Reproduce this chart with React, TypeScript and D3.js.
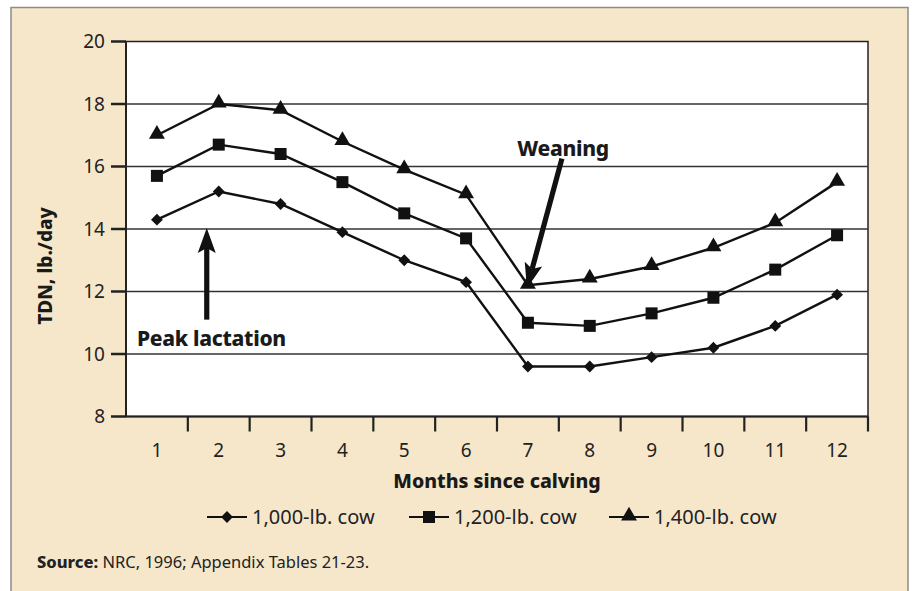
import * as d3 from 'd3';
import React from 'react';

const months = [1, 2, 3, 4, 5, 6, 7, 8, 9, 10, 11, 12];
const cow1000 = [14.3, 15.2, 14.8, 13.9, 13.0, 12.3, 9.6, 9.6, 9.9, 10.2, 10.9, 11.9];
const cow1200 = [15.7, 16.7, 16.4, 15.5, 14.5, 13.7, 11.0, 10.9, 11.3, 11.8, 12.7, 13.8];
const cow1400 = [17.0, 18.0, 17.8, 16.8, 15.9, 15.1, 12.2, 12.4, 12.8, 13.4, 14.2, 15.5];
const yTicks = [8, 10, 12, 14, 16, 18, 20];
const seriesNames = ['1,000-lb. cow', '1,200-lb. cow', '1,400-lb. cow'];
const seriesShapes = ['diamond', 'square', 'triangle'];

const W = 915, H = 591;
const margin = { top: 41.5, right: 47, bottom: 174.5, left: 126 };
const font = '"Noto Sans", "Open Sans", sans-serif';

function Marker({ shape, x, y }: { shape: string; x: number; y: number }) {
  if (shape === 'diamond') {
    const s = d3.symbol().type(d3.symbolSquare).size(70)();
    return <path d={s as string} transform={`translate(${x},${y}) rotate(45)`} fill="#111" />;
  }
  if (shape === 'square') {
    return <rect x={x - 6} y={y - 6} width={12} height={12} fill="#111" />;
  }
  const s = d3.symbol().type(d3.symbolTriangle).size(110)();
  return <path d={s as string} transform={`translate(${x},${y - 1})`} fill="#111" />;
}

// filled arrow from (x1,y1) tail to (x2,y2) tip
function Arrow({ x1, y1, x2, y2 }: { x1: number; y1: number; x2: number; y2: number }) {
  const len = Math.hypot(x2 - x1, y2 - y1);
  const ang = (Math.atan2(y2 - y1, x2 - x1) * 180) / Math.PI;
  const headL = 25, headW = 9, notch = 5;
  return (
    <g transform={`translate(${x1},${y1}) rotate(${ang})`}>
      <rect x={0} y={-2.6} width={len - headL + notch} height={5.2} fill="#111" />
      <path d={`M${len},0 L${len - headL},${-headW} L${len - headL + notch},0 L${len - headL},${headW} Z`} fill="#111" />
    </g>
  );
}

export default function App() {
  const innerW = W - margin.left - margin.right;
  const innerH = H - margin.top - margin.bottom;
  const x = d3.scaleBand<number>().domain(months).range([margin.left, margin.left + innerW]);
  const y = d3.scaleLinear().domain([8, 20]).range([margin.top + innerH, margin.top]);
  const cx = (m: number) => (x(m) as number) + x.bandwidth() / 2;
  const line = d3.line<number>().x((_, i) => cx(months[i])).y(d => y(d));
  const series = [cow1000, cow1200, cow1400];
  const bottom = y(8);
  const right = margin.left + innerW;

  const peakX = cx(2) - 12;
  const legendX = [207, 409, 609];

  return (
    <svg width={W} height={H} style={{ position: 'absolute', left: 0, top: 0 }} fontFamily={font}>
      <rect x={11} y={7.5} width={897} height={600} fill="#f6e7ca" stroke="#8c8c8c" strokeWidth={1.5} />
      <rect x={margin.left} y={margin.top} width={innerW} height={innerH} fill="#fff" stroke="#222" strokeWidth={1.5} />

      {yTicks.map(t => (
        <g key={t}>
          {t > 8 && t < 20 && <line x1={margin.left} x2={right} y1={y(t)} y2={y(t)} stroke="#333" strokeWidth={1.3} />}
          <line x1={margin.left - 15} x2={margin.left} y1={y(t)} y2={y(t)} stroke="#222" strokeWidth={2.5} />
          <text x={margin.left - 21} y={y(t)} dy="0.36em" textAnchor="end" fontSize={19} fill="#222">{t}</text>
        </g>
      ))}
      <line x1={margin.left} x2={margin.left} y1={margin.top} y2={bottom} stroke="#222" strokeWidth={2} />
      <line x1={margin.left} x2={right} y1={bottom} y2={bottom} stroke="#222" strokeWidth={2} />

      {months.map(m => (
        <g key={m}>
          <line x1={(x(m) as number) + x.bandwidth()} x2={(x(m) as number) + x.bandwidth()} y1={bottom} y2={bottom + 15} stroke="#222" strokeWidth={2.2} />
          <text x={cx(m)} y={bottom + 34} dy="0.36em" textAnchor="middle" fontSize={19} fill="#222">{m}</text>
        </g>
      ))}

      {series.map((s, i) => (
        <g key={i}>
          <path d={line(s) as string} fill="none" stroke="#111" strokeWidth={2.4} />
          {s.map((v, j) => <Marker key={j} shape={seriesShapes[i]} x={cx(months[j])} y={y(v)} />)}
        </g>
      ))}

      <Arrow x1={peakX} y1={y(11.1)} x2={peakX} y2={y(14) - 1} />
      <text x={137} y={346} fontSize={21} fontWeight={800} fill="#1a1a1a" letterSpacing={-0.3}>Peak lactation</text>
      <Arrow x1={cx(7) + 34} y1={y(16.25)} x2={cx(7) - 1} y2={y(cow1400[6]) + 3} />
      <text x={563} y={156} textAnchor="middle" fontSize={21} fontWeight={800} fill="#1a1a1a" letterSpacing={-0.3}>Weaning</text>

      <text transform={`translate(52,266) rotate(-90)`} textAnchor="middle" fontSize={19} fontWeight={800} fill="#1a1a1a">TDN, lb./day</text>
      <text x={497} y={488} textAnchor="middle" fontSize={19.5} fontWeight={800} fill="#1a1a1a">Months since calving</text>

      {seriesNames.map((n, i) => (
        <g key={n} transform={`translate(${legendX[i]},517)`}>
          <line x1={0} x2={40} y1={0} y2={0} stroke="#111" strokeWidth={2.2} />
          <Marker shape={seriesShapes[i]} x={20} y={0} />
          <text x={45} y={0} dy="0.36em" fontSize={20} fill="#222">{n}</text>
        </g>
      ))}

      <text x={37} y={568} fontSize={16.5} fill="#222">
        <tspan fontWeight={800}>Source:</tspan> NRC, 1996; Appendix Tables 21-23.
      </text>
    </svg>
  );
}
